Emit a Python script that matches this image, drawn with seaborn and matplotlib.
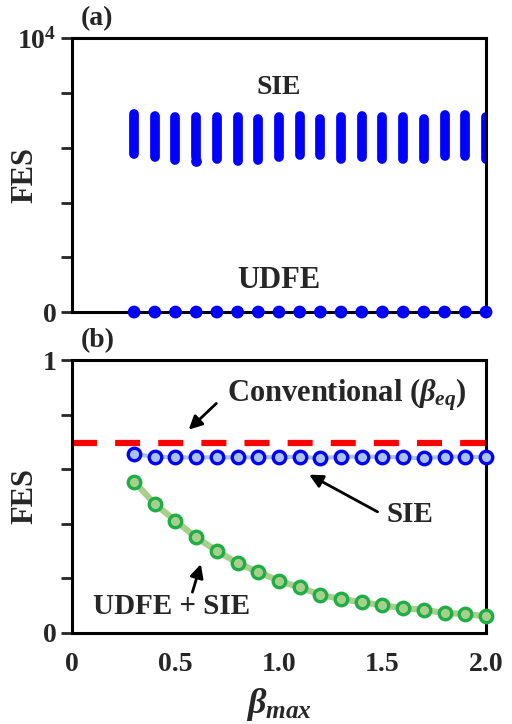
import numpy as np
import pandas as pd
import seaborn as sns
import matplotlib.pyplot as plt

# beta_max values
beta = [0.3, 0.4, 0.5, 0.6, 0.7, 0.8, 0.9, 1.0, 1.1, 1.2,
        1.3, 1.4, 1.5, 1.6, 1.7, 1.8, 1.9, 2.0]

# (a) SIE spread of FES over runs (min / max), UDFE ~ 0
sie_hi = [7250, 7160, 7130, 7110, 7110, 7110, 7070, 7130, 7160, 7070,
          7110, 7160, 7110, 7110, 7040, 7190, 7190, 7110]
sie_lo = [5790, 5670, 5570, 5670, 5610, 5520, 5570, 5670, 5730, 5730,
          5610, 5670, 5610, 5610, 5610, 5700, 5700, 5610]
outlier_x = [0.6]
outlier_y = [5520]
udfe_a = [0] * len(beta)

# (b) normalised FES
conv_level = 0.695
sie_b = [0.655, 0.646, 0.643, 0.643, 0.644, 0.643, 0.644, 0.644, 0.646, 0.640,
         0.646, 0.646, 0.646, 0.643, 0.640, 0.646, 0.646, 0.644]
udfe_sie = [0.555, 0.473, 0.411, 0.350, 0.301, 0.256, 0.223, 0.191, 0.167, 0.140,
            0.124, 0.113, 0.101, 0.091, 0.085, 0.073, 0.070, 0.061]

df = pd.DataFrame({"beta": beta, "lo": sie_lo, "hi": sie_hi, "udfe": udfe_a,
                   "sie": sie_b, "both": udfe_sie})

sns.set_style("ticks")
plt.rcParams["font.family"] = ["Liberation Serif", "DejaVu Serif"]
plt.rcParams["font.weight"] = "bold"
plt.rcParams["mathtext.fontset"] = "custom"
plt.rcParams["mathtext.rm"] = "Liberation Serif:bold"
plt.rcParams["mathtext.it"] = "Liberation Serif:italic:bold"
plt.rcParams["mathtext.bf"] = "Liberation Serif:bold"

fig = plt.figure(figsize=(5.12, 7.24), dpi=100)
ax1 = fig.add_axes([0.1406, 0.569, 0.8086, 0.378])
ax2 = fig.add_axes([0.1406, 0.1257, 0.8086, 0.377])

blue = "#0000ff"
arrow = dict(arrowstyle="-|>,head_length=0.8,head_width=0.4", color="black", lw=2)

# ---- panel (a)
lc = ax1.vlines(df["beta"], df["lo"], df["hi"], color=blue, lw=7)
lc.set_capstyle("round")
ax1.scatter(outlier_x, outlier_y, s=45, color=blue, zorder=3)
sns.scatterplot(x="beta", y="udfe", data=df, ax=ax1, color=blue, s=85,
                edgecolor="none", clip_on=False, zorder=4)
ax1.text(1.0, 8200, "SIE", ha="center", va="center", fontsize=20, fontweight="bold")
ax1.text(1.0, 1160, "UDFE", ha="center", va="center", fontsize=22, fontweight="bold")
ax1.set_xlim(0, 2.0)
ax1.set_ylim(0, 10000)
ax1.set_yticks([0, 2000, 4000, 6000, 8000, 10000])
ax1.set_yticklabels(["0", "", "", "", "", r"10$^{4}$"])
ax1.set_xticks([])
ax1.set_xlabel("")
ax1.text(0.02, 1.025, "(a)", transform=ax1.transAxes, ha="left", va="bottom",
         fontsize=20, fontweight="bold")

# ---- panel (b)
ax2.plot([0, 2.0], [conv_level, conv_level], color="#ff0000", lw=4.5,
         dashes=(4.0, 2.9), zorder=2)
sns.lineplot(x="beta", y="sie", data=df, ax=ax2, color="#a9c3ea", lw=3,
             zorder=3)
sns.lineplot(x="beta", y="both", data=df, ax=ax2, color="#a8cf8c", lw=4.5,
             zorder=3)
ax2.plot(df["beta"], df["sie"], ls="none", marker="o", ms=9, mew=2.4,
         mec=blue, mfc="#a9c3ea", clip_on=False, zorder=4)
ax2.plot(df["beta"], df["both"], ls="none", marker="o", ms=9, mew=2.4,
         mec="#1eae45", mfc="#a8cf8c", clip_on=False, zorder=4)

ax2.text(0.75, 0.872, r"Conventional ($\beta_{eq}$)", ha="left", va="center",
         fontsize=22, fontweight="bold")
ax2.annotate("", xy=(0.554, 0.738), xytext=(0.707, 0.848), arrowprops=arrow)
ax2.text(1.635, 0.433, "SIE", ha="center", va="center", fontsize=21,
         fontweight="bold")
ax2.annotate("", xy=(1.134, 0.585), xytext=(1.488, 0.439), arrowprops=arrow)
ax2.text(0.10, 0.098, "UDFE + SIE", ha="left", va="center", fontsize=21,
         fontweight="bold")
ax2.annotate("", xy=(0.626, 0.262), xytext=(0.578, 0.140), arrowprops=arrow)

ax2.set_xlim(0, 2.0)
ax2.set_ylim(0, 1)
ax2.set_yticks([0, 0.2, 0.4, 0.6, 0.8, 1.0])
ax2.set_yticklabels(["0", "", "", "", "", "1"])
ax2.set_xticks([0, 0.5, 1.0, 1.5, 2.0])
ax2.set_xticklabels(["0", "0.5", "1.0", "1.5", "2.0"])
ax2.tick_params(axis="x", length=0, pad=14)
ax2.set_xlabel(r"$\beta_{max}$", fontsize=26, labelpad=6)
ax2.text(0.02, 1.025, "(b)", transform=ax2.transAxes, ha="left", va="bottom",
         fontsize=20, fontweight="bold")

for ax in (ax1, ax2):
    ax.set_ylabel("FES", fontsize=22, fontweight="bold")
    ax.yaxis.set_label_coords(-0.078, 0.5)
    for sp in ax.spines.values():
        sp.set_visible(True)
        sp.set_linewidth(2.2)
        sp.set_color("black")
    ax.tick_params(axis="y", direction="out", length=8, width=2,
                   labelsize=20, pad=3)
    ax.tick_params(axis="x", labelsize=20)
    for lbl in ax.get_yticklabels() + ax.get_xticklabels():
        lbl.set_fontweight("bold")

fig.savefig("out.png", dpi=100)
